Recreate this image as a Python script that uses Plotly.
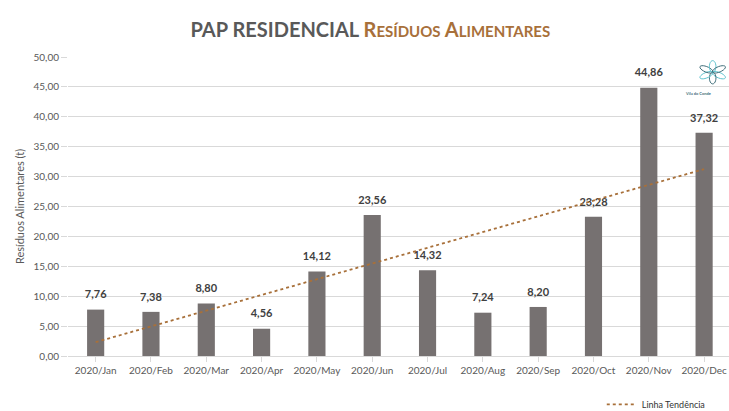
import numpy as np
import plotly.graph_objects as go

# Monthly residential door-to-door food waste collection (tonnes)
months = ["2020/Jan", "2020/Feb", "2020/Mar", "2020/Apr", "2020/May", "2020/Jun",
          "2020/Jul", "2020/Aug", "2020/Sep", "2020/Oct", "2020/Nov", "2020/Dec"]
tonnes = [7.76, 7.38, 8.80, 4.56, 14.12, 23.56, 14.32, 7.24, 8.20, 23.28, 44.86, 37.32]
y_ticks = [0, 5, 10, 15, 20, 25, 30, 35, 40, 45, 50]

W, H = 729, 411
L, R, T, B = 68, 0, 57, 55

BAR = "#767171"
BROWN = "#A8703A"
TXT = "#595959"
FONT = "Lato, Open Sans, sans-serif"

idx = np.arange(len(months))
slope, intercept = np.polyfit(idx, tonnes, 1)
trend = slope * idx + intercept

labels = [f"{v:.2f}".replace(".", ",") for v in tonnes]

fig = go.Figure()
fig.add_trace(go.Bar(
    x=idx, y=tonnes, width=0.31, marker=dict(color=BAR, line=dict(width=0)),
    showlegend=False, hoverinfo="skip",
))
# value labels above each bar (hidden marker keeps a small gap)
fig.add_trace(go.Scatter(
    x=idx, y=tonnes, mode="markers+text", text=labels, textposition="top center",
    marker=dict(size=12, opacity=0),
    textfont=dict(family=FONT, size=11, color="#404040", weight="bold"),
    cliponaxis=False, showlegend=False, hoverinfo="skip",
))
fig.add_trace(go.Scatter(
    x=idx, y=trend, mode="lines", name="Linha Tendência",
    line=dict(color=BROWN, width=1.8, dash="dot"),
))

fig.update_layout(
    width=W, height=H,
    margin=dict(l=L, r=R, t=T, b=B, autoexpand=False),
    paper_bgcolor="white", plot_bgcolor="white",
    separators=",.",
    font=dict(family=FONT, color=TXT, size=10),
    xaxis=dict(
        tickmode="array", tickvals=idx, ticktext=months,
        range=[-0.5, 11.45],
        showgrid=False, zeroline=False,
        showline=True, linecolor="#d9d9d9", linewidth=1,
        ticks="outside", tickson="boundaries", ticklen=5, tickcolor="#d9d9d9",
        tickfont=dict(size=10, color=TXT),
    ),
    yaxis=dict(
        range=[0, 50], tickvals=y_ticks, tickformat=".2f",
        showgrid=True, gridcolor="#d9d9d9", gridwidth=1,
        zeroline=False, showline=False,
        ticks="outside", ticklen=6, tickcolor="#d9d9d9",
        tickfont=dict(size=10, color=TXT),
        title=dict(text="Resíduos Alimentares (t)", font=dict(size=11, color=TXT), standoff=6),
    ),
    legend=dict(
        x=0.975, y=0.016, xref="container", yref="container",
        xanchor="right", yanchor="middle",
        font=dict(size=9, color="#333333"), itemwidth=30,
        bgcolor="rgba(0,0,0,0)", borderwidth=0,
    ),
    title=dict(
        text=(f"<span style='color:{TXT}'>PAP RESIDENCIAL </span>"
              f"<span style='color:{BROWN}'>R<span style='font-size:15px'>ESÍDUOS</span> "
              f"A<span style='font-size:15px'>LIMENTARES</span></span>"),
        x=0.508, xanchor="center", y=0.927, yanchor="middle",
        font=dict(family=FONT, size=20, weight="bold"),
    ),
)

# small teal emblem in the top-right corner
def px(x, y):
    return x / W, 1 - y / H

cx, cy = 711, 21
for k in range(6):
    a = np.pi / 3 * k + np.pi / 6
    pts = []
    for t in np.linspace(0, 2 * np.pi, 24):
        u = 8 + 8 * np.cos(t)
        v = 3.6 * np.sin(t)
        xx = cx + u * np.cos(a) - v * np.sin(a)
        yy = cy + u * np.sin(a) + v * np.cos(a)
        pts.append(px(xx, yy))
    path = "M " + " L ".join(f"{p[0]:.5f},{p[1]:.5f}" for p in pts) + " Z"
    col = "#5EC3CE" if k % 2 == 0 else "#3F6E7A"
    fig.add_shape(type="path", path=path, xref="paper", yref="paper",
                  line=dict(color=col, width=1), fillcolor="rgba(0,0,0,0)")
fig.add_annotation(x=px(712, 44)[0], y=px(712, 44)[1], xref="paper", yref="paper",
                   text="<b>Vila do Conde</b>", showarrow=False,
                   font=dict(size=4, color="#3F6E7A"))

fig.write_html("out.html")
